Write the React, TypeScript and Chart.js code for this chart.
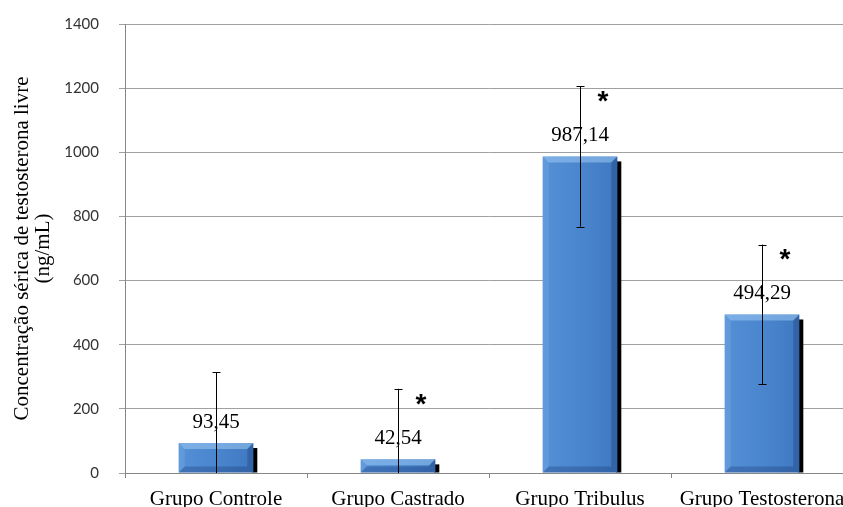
import React, { useEffect, useRef } from "react";
import { Chart, registerables } from "chart.js";

Chart.register(...registerables);

const categories = ["Grupo Controle", "Grupo Castrado", "Grupo Tribulus", "Grupo Testosterona"];
const means = [93.45, 42.54, 987.14, 494.29];
const sds = [220, 220, 219, 218];
const significant = [false, true, true, true];
const yTicks = [0, 200, 400, 600, 800, 1000, 1200, 1400];
const yTitle = ["Concentração sérica de testosterona livre", "(ng/mL)"];

const SERIF = "'Liberation Serif', 'Times New Roman', serif";
const BAR_PCT = 0.41;

const decor = {
  id: "decor",
  beforeDatasetsDraw(chart: any) {
    const meta = chart.getDatasetMeta(0);
    const c = chart.ctx;
    c.save();
    meta.data.forEach((el: any) => {
      const right = el.x + el.width / 2;
      c.fillStyle = "#000";
      c.fillRect(right - 1, el.y + 5, 5, el.base - el.y - 5);
    });
    c.restore();
  },
  afterDatasetsDraw(chart: any) {
    const meta = chart.getDatasetMeta(0);
    const ys = chart.scales.y;
    const c = chart.ctx;
    c.save();
    meta.data.forEach((el: any, i: number) => {
      const left = el.x - el.width / 2;
      const right = el.x + el.width / 2;
      const top = el.y;
      const base = el.base;
      const b = 6;
      // top bevel
      c.fillStyle = "rgba(150,195,240,0.6)";
      c.beginPath();
      c.moveTo(left, top);
      c.lineTo(right, top);
      c.lineTo(right - b, top + b);
      c.lineTo(left + b, top + b);
      c.closePath();
      c.fill();
      // left bevel
      c.fillStyle = "rgba(130,180,235,0.3)";
      c.beginPath();
      c.moveTo(left, top);
      c.lineTo(left + b, top + b);
      c.lineTo(left + b, base - b);
      c.lineTo(left, base);
      c.closePath();
      c.fill();
      // right bevel
      c.fillStyle = "rgba(20,50,110,0.3)";
      c.beginPath();
      c.moveTo(right, top);
      c.lineTo(right - b, top + b);
      c.lineTo(right - b, base - b);
      c.lineTo(right, base);
      c.closePath();
      c.fill();
      // bottom bevel
      c.fillStyle = "rgba(20,50,110,0.3)";
      c.beginPath();
      c.moveTo(left, base);
      c.lineTo(left + b, base - b);
      c.lineTo(right - b, base - b);
      c.lineTo(right, base);
      c.closePath();
      c.fill();

      // error bars
      const m = means[i];
      const s = sds[i];
      const yTop = ys.getPixelForValue(m + s);
      const lowVal = m - s;
      const yBot = ys.getPixelForValue(Math.max(0, lowVal));
      const x = Math.round(el.x) + 0.5;
      c.strokeStyle = "#000";
      c.lineWidth = 1;
      c.beginPath();
      c.moveTo(x, yTop);
      c.lineTo(x, yBot);
      c.moveTo(x - 4, Math.round(yTop) + 0.5);
      c.lineTo(x + 4, Math.round(yTop) + 0.5);
      if (lowVal > 0) {
        c.moveTo(x - 4, Math.round(yBot) + 0.5);
        c.lineTo(x + 4, Math.round(yBot) + 0.5);
      }
      c.stroke();

      // value label
      c.fillStyle = "#000";
      c.font = `21px ${SERIF}`;
      c.textAlign = "center";
      c.textBaseline = "middle";
      c.fillText(m.toFixed(2).replace(".", ","), el.x, top - 21);

      // significance asterisk
      if (significant[i]) {
        c.font = `bold 28px 'Liberation Sans', Arial, sans-serif`;
        c.textBaseline = "middle";
        c.fillText("*", el.x + 23, top - 54);
      }
    });
    c.restore();
  },
};

export default function App() {
  const ref = useRef<HTMLCanvasElement | null>(null);

  useEffect(() => {
    if (!ref.current) return;
    const chart = new Chart(ref.current, {
      type: "bar",
      data: {
        labels: categories,
        datasets: [
          {
            data: means,
            barPercentage: BAR_PCT,
            categoryPercentage: 1,
            borderWidth: 0,
            backgroundColor: (ctx: any) => {
              const ch = ctx.chart;
              const xs = ch.scales?.x;
              if (!xs || !ch.chartArea) return "#4A86CF";
              const cx = xs.getPixelForValue(ctx.dataIndex);
              const w = (xs.width / categories.length) * BAR_PCT;
              const g = ch.ctx.createLinearGradient(cx - w / 2, 0, cx + w / 2, 0);
              g.addColorStop(0, "#5590D6");
              g.addColorStop(0.5, "#4A86CE");
              g.addColorStop(1, "#3F78C0");
              return g;
            },
          },
        ],
      },
      options: {
        animation: false,
        responsive: false,
        devicePixelRatio: 1,
        layout: { padding: { left: 0, right: 7, top: 24, bottom: 0 } },
        plugins: {
          legend: { display: false },
          tooltip: { enabled: false },
        },
        scales: {
          x: {
            grid: {
              display: true,
              drawOnChartArea: false,
              drawTicks: true,
              tickLength: 5,
              color: "#868686",
              offset: true,
            },
            border: { display: true, color: "#868686" },
            ticks: {
              color: "#000",
              font: { family: SERIF, size: 21 },
              padding: 9,
              maxRotation: 0,
              autoSkip: false,
            },
            afterFit: (s: any) => {
              s.height = 34;
              s.paddingLeft = 0;
              s.paddingRight = 0;
            },
          },
          y: {
            min: 0,
            max: 1400,
            afterBuildTicks: (s: any) => {
              s.ticks = yTicks.map((v) => ({ value: v }));
            },
            grid: {
              color: "#A0A0A0",
              tickLength: 6,
            },
            border: { display: true, color: "#868686" },
            ticks: {
              color: "#333",
              font: { family: "Lato, 'Liberation Sans', sans-serif", size: 15 },
              padding: 20,
              callback: (v: any) => String(v),
            },
            title: {
              display: true,
              text: yTitle,
              color: "#000",
              font: { family: SERIF, size: 21, lineHeight: 1.0 },
              padding: { top: 12, bottom: 0 },
            },
            afterFit: (s: any) => {
              s.width = 125;
              s.paddingTop = 0;
              s.paddingBottom = 0;
            },
          },
        },
      },
      plugins: [decor],
    });
    return () => chart.destroy();
  }, []);

  return (
    <div
      style={{
        position: "fixed",
        left: 0,
        top: 0,
        width: 843,
        height: 507,
        overflow: "hidden",
        background: "#fff",
      }}
    >
      <canvas ref={ref} width={860} height={507} style={{ display: "block" }} />
    </div>
  );
}
